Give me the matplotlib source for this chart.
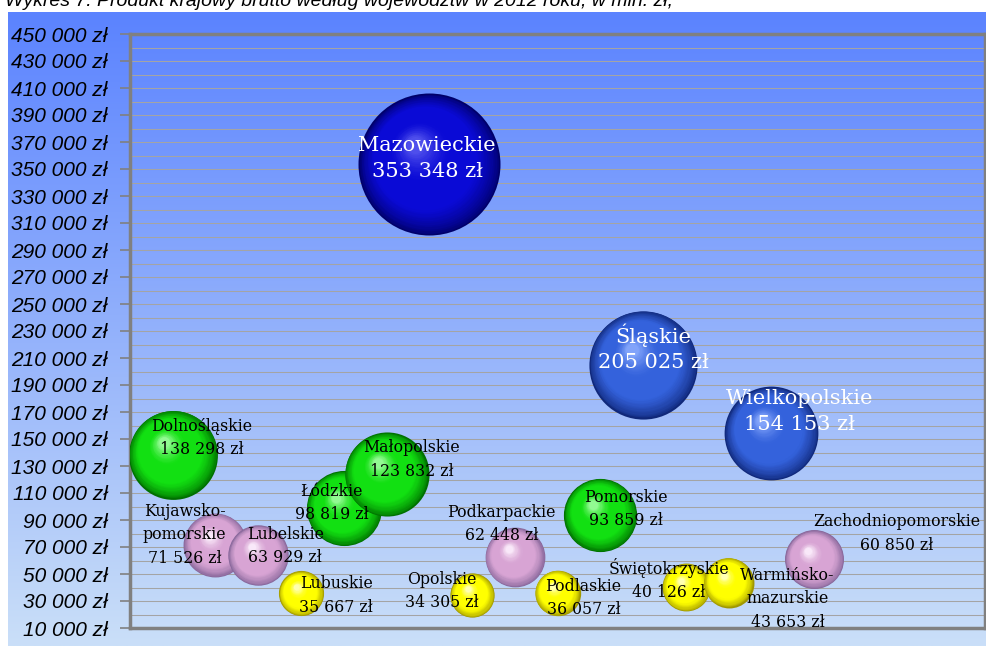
import numpy as np
import matplotlib.pyplot as plt
from matplotlib.transforms import offset_copy
from matplotlib.colors import to_rgb

# PKB wg województw 2012, mln zł
regions = ["Dolnośląskie", "Kujawsko-\npomorskie", "Lubelskie", "Lubuskie", "Łódzkie",
           "Małopolskie", "Mazowieckie", "Opolskie", "Podkarpackie", "Podlaskie",
           "Pomorskie", "Śląskie", "Świętokrzyskie", "Warmińsko-\nmazurskie",
           "Wielkopolskie", "Zachodniopomorskie"]
values = [138298, 71526, 63929, 35667, 98819, 123832, 353348, 34305, 62448, 36057,
          93859, 205025, 40126, 43653, 154153, 60850]
ytick_vals = list(range(10000, 450001, 20000))

# style / layout
groups = ["green", "pink", "pink", "yellow", "green", "green", "navy", "yellow", "pink",
          "yellow", "green", "blue", "yellow", "yellow", "blue", "pink"]
palette = {
    "green": ("#007000", "#12e012", "#a8ffa8"),
    "pink": ("#86669a", "#d8a4d4", "#fff4ff"),
    "yellow": ("#a09800", "#ffff00", "#ffffd0"),
    "navy": ("#00006a", "#0a0ad6", "#5a5af0"),
    "blue": ("#10287a", "#3462dc", "#8eaeff"),
}
# label offset from bubble centre (pixels, right / down)
label_off = [(29, -17), (-31, -10), (27, -9), (35, 2), (-12, -5), (25, -15), (-2, -6),
             (-30, -4), (-13, -33), (26, 5), (26, -6), (10, -17), (-17, -8), (59, 16),
             (28, -22), (83, -26)]
big = {"Mazowieckie", "Śląskie", "Wielkopolskie"}


def fmt(v):
    return f"{v:,}".replace(",", " ") + " zł"


def sphere(ax, x, y, s, rim, base, light, z):
    r = np.sqrt(s) / 2
    rim, base, light = map(np.array, map(to_rgb, (rim, base, light)))
    n = 40
    for k in range(n):
        t = k / (n - 1)
        if t < 0.3:
            c = rim + (base - rim) * (t / 0.3) ** 0.7
        elif t < 0.65:
            c = base
        else:
            c = base + (light - base) * ((t - 0.65) / 0.35) ** 1.5 * 0.85
        rad = r * (1 - 0.88 * t)
        tr = offset_copy(ax.transData, fig=ax.figure, x=-0.2 * r * t, y=0.28 * r * t, units="points")
        ax.scatter([x], [y], s=(2 * rad) ** 2, color=c, lw=0, transform=tr, zorder=z)


W, H = 987, 646
fig = plt.figure(figsize=(W / 100, H / 100), dpi=100)
fig.patch.set_facecolor("white")

# background gradient
bg = fig.add_axes([0, 0, 1, 1])
bg.set_xlim(0, W)
bg.set_ylim(H, 0)
bg.axis("off")
top = np.array([91, 131, 255]) / 255
bot = np.array([202, 223, 248]) / 255
g = np.linspace(0, 1, 256)[:, None, None]
grad = top + (bot - top) * g
grad = np.repeat(grad, 2, axis=1)
bg.imshow(grad, extent=[8, W, H, 12], aspect="auto", interpolation="bilinear")

fig.text(5 / W, 1 - 2 / H, "Wykres 7. Produkt krajowy brutto według województw w 2012 roku, w mln. zł,",
         fontsize=14, style="italic", family="Liberation Sans", va="center", ha="left")

ax = fig.add_axes([130 / W, (H - 628) / H, 855 / W, 594 / H])
ax.patch.set_alpha(0)
ax.set_xlim(0, 20)
ax.set_ylim(10000, 450000)
ax.set_yticks(ytick_vals)
ax.set_yticklabels([fmt(v) for v in ytick_vals], fontsize=15, style="italic", family="Liberation Sans")
ax.set_yticks(range(10000, 450001, 10000), minor=True)
ax.tick_params(axis="y", which="major", length=7, width=1.2, color="#808080", pad=9)
ax.tick_params(axis="y", which="minor", length=0)
ax.set_xticks([])
ax.grid(axis="y", which="both", color="#a4a4a4", lw=0.75)
ax.set_axisbelow(True)
for sp in ax.spines.values():
    sp.set_color("#808080")
    sp.set_linewidth(2.5)

kscale = (2 * 71 * 0.72) ** 2 / max(values)
for i, (name, v) in enumerate(zip(regions, values)):
    x = i + 1
    rim, base, light = palette[groups[i]]
    sphere(ax, x, v, v * kscale, rim, base, light, 3 + i * 0.01)

for i, (name, v) in enumerate(zip(regions, values)):
    dx, dy = label_off[i]
    isbig = name in big
    ax.annotate(name + "\n" + fmt(v), (i + 1, v), xytext=(dx * 0.72, -dy * 0.72),
                textcoords="offset points", ha="center", va="center",
                fontsize=15 if isbig else 11.3, family="DejaVu Serif",
                color="white" if isbig else "black", linespacing=1.45 if isbig else 1.5,
                zorder=10)

fig.savefig("out.png", dpi=100)
